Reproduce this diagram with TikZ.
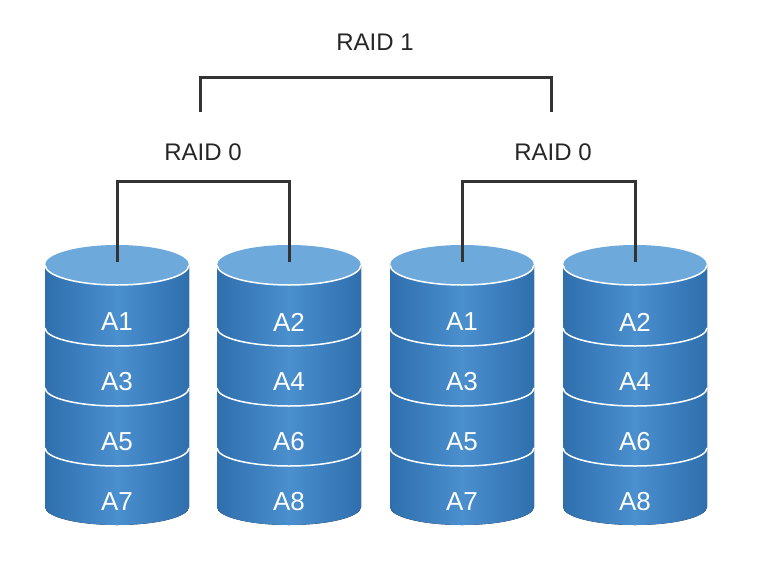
\documentclass[tikz,border=0pt]{standalone}
\usepackage{fontspec}
\setmainfont{Liberation Sans}
\definecolor{diskbody}{HTML}{4A8FCE}
\definecolor{diskside}{HTML}{2F6FAE}
\definecolor{disktop}{HTML}{6EA9DB}
\definecolor{wire}{HTML}{333333}
\tikzset{
  label text/.style={font=\fontsize{24}{24}\selectfont, text=black!85},
  disk text/.style={font=\fontsize{26}{26}\selectfont, text=white},
  wire line/.style={draw=wire, line width=3pt},
  sep line/.style={draw=white, line width=1.5pt}
}
\newcommand{\diskstack}[3]{% name, x, labels
  \fill[left color=diskside, right color=diskside, middle color=diskbody]
    (#2-72,265) -- (#2-72,507) arc (180:0:72 and 18) -- (#2+72,265) -- cycle;
  \fill[disktop] (#2,265) ellipse (72 and 20);
  \draw[sep line] (#2-72,265) arc (180:0:72 and 20);
  \foreach \y in {328,388,448} \draw[sep line] (#2-72,\y) arc (180:0:72 and 18);
  \coordinate (#1) at (#2,262);
  \foreach \t [count=\i] in {#3}
    \node[disk text] at (#2,{262+60*\i}) {\t};
}
\begin{document}
\begin{tikzpicture}[x=1pt,y=-1pt]
  \useasboundingbox (0,0) rectangle (767,586);

  \diskstack{d1}{117}{A1,A3,A5,A7}
  \diskstack{d2}{289}{A2,A4,A6,A8}
  \diskstack{d3}{462}{A1,A3,A5,A7}
  \diskstack{d4}{635}{A2,A4,A6,A8}

  \node[label text] (raid1) at (375,42) {RAID 1};
  \node[label text] (raidl) at (203,152) {RAID 0};
  \node[label text] (raidr) at (553,152) {RAID 0};

  \coordinate (l0) at (200,112);
  \coordinate (r0) at (551,112);
  \draw[wire line] (l0) |- (375,77) -| (r0);
  \draw[wire line] (d1) |- (203,181) -| (d2);
  \draw[wire line] (d3) |- (553,181) -| (d4);
\end{tikzpicture}
\end{document}
